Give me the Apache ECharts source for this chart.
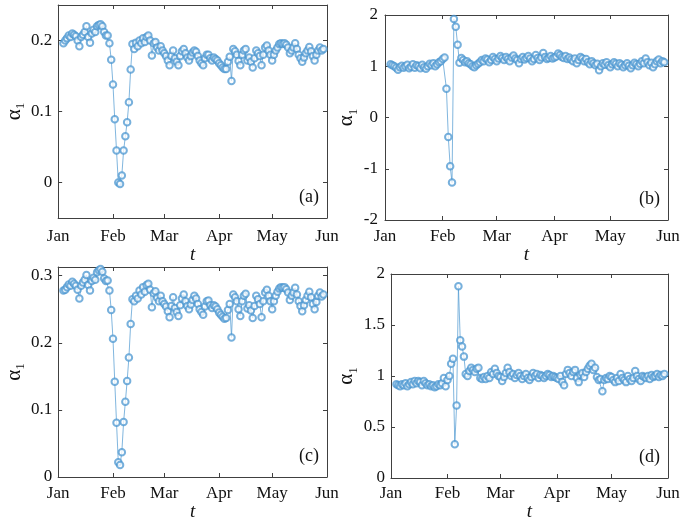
<!DOCTYPE html>
<html><head><meta charset="utf-8">
<script src="https://cdn.jsdelivr.net/npm/echarts@6/dist/echarts.min.js"></script>
<style>html,body{margin:0;padding:0;background:#fff}#c{width:685px;height:524px}</style>
</head><body><div id="c"></div>
<script>
// Month tick labels and their day index (day 0 = Jan 1, 2020)
const monthLabels = ['Jan','Feb','Mar','Apr','May','Jun'];
const monthStartDay = [0,31,60,91,121,152];
const lastDay = 152;
const firstDataDay = 3;   // first observation: Jan 4

// Panel (a)
const alphaA = [
0.196,0.200,0.203,0.207,0.205,0.210,0.208,0.206,0.200,0.192,
0.205,0.208,0.212,0.220,0.205,0.197,0.210,0.215,0.212,0.220,
0.222,0.223,0.220,0.212,0.207,0.207,0.196,0.173,0.138,0.089,
0.045,0.000,-0.002,0.010,0.045,0.065,0.085,0.113,0.159,0.195,
0.188,0.197,0.192,0.200,0.196,0.203,0.198,0.205,0.207,0.200,
0.179,0.196,0.198,0.190,0.186,0.192,0.186,0.182,0.178,0.172,
0.165,0.178,0.186,0.175,0.170,0.165,0.178,0.185,0.188,0.182,
0.176,0.172,0.178,0.183,0.186,0.184,0.178,0.172,0.168,0.165,
0.175,0.180,0.180,0.175,0.172,0.176,0.174,0.172,0.168,0.165,
0.162,0.160,0.160,0.170,0.177,0.143,0.188,0.185,0.180,0.171,
0.165,0.180,0.186,0.188,0.172,0.176,0.170,0.162,0.175,0.186,
0.182,0.178,0.165,0.180,0.190,0.193,0.186,0.180,0.172,0.180,
0.186,0.190,0.195,0.196,0.195,0.196,0.194,0.190,0.182,0.186,
0.190,0.196,0.188,0.180,0.175,0.170,0.176,0.182,0.186,0.191,
0.185,0.178,0.172,0.180,0.186,0.190,0.186,0.188];

// Panel (b)
const alphaB = [
1.04,1.02,1.00,0.97,0.93,0.98,1.01,0.97,1.00,1.03,
0.96,0.99,1.04,0.97,1.02,1.00,0.96,1.03,0.98,0.95,
1.00,1.05,1.02,1.06,1.00,1.04,1.08,1.10,1.14,1.17,
0.56,-0.38,-0.95,-1.27,1.92,1.77,1.42,1.07,1.16,1.12,
1.08,1.10,1.06,1.04,1.00,0.98,1.02,1.05,1.08,1.12,
1.10,1.15,1.13,1.08,1.12,1.18,1.14,1.10,1.15,1.20,
1.16,1.12,1.18,1.14,1.10,1.17,1.21,1.15,1.12,1.06,
1.14,1.18,1.13,1.16,1.20,1.15,1.10,1.14,1.22,1.16,
1.12,1.17,1.26,1.18,1.14,1.16,1.20,1.15,1.17,1.19,
1.25,1.22,1.18,1.16,1.20,1.14,1.17,1.13,1.10,1.15,
1.06,1.12,1.18,1.15,1.10,1.14,1.08,1.04,1.10,1.06,
1.02,1.05,0.92,1.00,1.06,1.03,1.08,1.02,0.98,1.04,
1.08,1.05,1.00,1.06,1.03,0.98,1.02,1.06,1.01,0.96,
1.02,1.07,1.04,1.00,1.05,1.10,1.06,1.15,1.08,1.02,
1.07,0.98,1.04,1.10,1.13,1.06,1.10,1.08];

// Panel (c)
const alphaC = [
0.278,0.279,0.283,0.287,0.285,0.291,0.288,0.285,0.279,0.266,
0.285,0.290,0.294,0.301,0.286,0.278,0.292,0.297,0.294,0.305,
0.308,0.310,0.306,0.296,0.292,0.293,0.278,0.249,0.206,0.142,
0.081,0.022,0.018,0.037,0.082,0.112,0.143,0.178,0.228,0.265,
0.262,0.270,0.266,0.278,0.272,0.283,0.276,0.286,0.288,0.279,
0.253,0.274,0.277,0.267,0.262,0.270,0.262,0.258,0.254,0.247,
0.238,0.255,0.268,0.252,0.246,0.240,0.256,0.266,0.272,0.262,
0.255,0.250,0.257,0.264,0.270,0.266,0.258,0.250,0.246,0.242,
0.254,0.262,0.263,0.256,0.252,0.256,0.254,0.250,0.245,0.242,
0.239,0.236,0.237,0.249,0.258,0.208,0.272,0.268,0.262,0.250,
0.240,0.262,0.270,0.273,0.251,0.256,0.248,0.237,0.255,0.270,
0.265,0.258,0.238,0.262,0.275,0.279,0.270,0.262,0.250,0.262,
0.270,0.276,0.281,0.283,0.282,0.283,0.280,0.275,0.264,0.270,
0.275,0.282,0.272,0.262,0.255,0.247,0.256,0.264,0.270,0.276,
0.268,0.258,0.250,0.261,0.270,0.275,0.269,0.272];

// Panel (d)
const alphaD = [
0.92,0.91,0.90,0.92,0.91,0.93,0.90,0.92,0.94,0.92,
0.95,0.93,0.95,0.94,0.91,0.95,0.93,0.91,0.92,0.90,
0.91,0.89,0.90,0.92,0.91,0.93,0.98,0.90,0.96,1.00,
1.12,1.17,0.33,0.71,1.88,1.35,1.29,1.19,1.02,1.00,
1.05,1.08,1.06,1.04,1.07,1.08,0.98,0.97,0.99,0.97,
1.00,0.98,1.04,1.02,1.07,1.03,1.00,0.99,0.95,0.99,
1.03,1.08,1.04,1.00,1.02,0.98,1.01,1.03,1.00,0.97,
1.00,1.02,0.98,0.96,0.99,1.03,1.00,1.02,0.98,1.01,
1.00,0.98,1.00,1.02,1.01,0.99,1.00,0.99,0.98,0.97,
1.00,0.94,0.91,1.02,1.06,1.03,1.00,1.04,1.06,0.98,
0.94,1.01,1.03,0.99,1.04,1.07,1.10,1.12,1.06,1.08,
0.99,0.96,0.97,0.85,0.96,0.98,0.97,1.00,0.99,0.96,
0.94,0.98,0.95,1.02,0.98,0.96,0.94,1.00,0.97,0.95,
0.98,1.05,1.00,0.97,0.95,1.00,0.99,0.98,1.00,0.97,
1.01,0.99,1.00,1.02,0.99,1.01,1.00,1.02];

const panelTags = ['(a)','(b)','(c)','(d)'];

const days = [];
for (let d = 0; d <= lastDay; d++) days.push(String(d));

const FONT = 'Liberation Serif';
const AXC = '#404040';
const LINEC = '#4a96d0';

const grids = [
  {left: 52, top: 5, width: 275, height: 213},
  {left: 385, top: 15, width: 283, height: 205},
  {left: 52, top: 267, width: 275, height: 210},
  {left: 391, top: 274, width: 277, height: 204}
];
const yCfgs = [
  {min: -0.05, max: 0.25, custom: [0, 0.1, 0.2], nameGap: 27, labelMargin: 6},
  {min: -2, max: 2, interval: 1, nameGap: 20, labelMargin: 7},
  {min: 0, max: 0.313, custom: [0, 0.1, 0.2, 0.3], nameGap: 27, labelMargin: 6},
  {min: 0, max: 2, interval: 0.5, nameGap: 17, labelMargin: 6}
];
const xCfgs = [
  {labelMargin: 10, nameGap: 22},
  {labelMargin: 8, nameGap: 21},
  {labelMargin: 8, nameGap: 19},
  {labelMargin: 7, nameGap: 18}
];
const seriesVals = [alphaA, alphaB, alphaC, alphaD];

const isMonthStart = (idx) => monthStartDay.indexOf(Number(idx)) >= 0;

const xAxis = [], yAxis = [], series = [], graphic = [];
grids.forEach((g, i) => {
  xAxis.push({
    type: 'category', gridIndex: i, data: days, boundaryGap: false, position: 'bottom',
    axisLine: {show: true, onZero: false, lineStyle: {color: AXC, width: 1}},
    axisTick: {show: true, inside: true, length: 4, interval: (idx) => isMonthStart(idx), lineStyle: {color: AXC}},
    axisLabel: {interval: (idx) => isMonthStart(idx), margin: xCfgs[i].labelMargin, color: '#111',
      fontFamily: FONT, fontSize: 17,
      formatter: (v) => monthLabels[monthStartDay.indexOf(Number(v))]},
    splitLine: {show: false},
    name: 't', nameLocation: 'middle', nameGap: xCfgs[i].nameGap,
    nameTextStyle: {fontFamily: FONT, fontStyle: 'italic', fontSize: 19, color: '#111'}
  });
  xAxis.push({
    type: 'category', gridIndex: i, data: days, boundaryGap: false, position: 'top',
    axisLine: {show: true, onZero: false, lineStyle: {color: AXC, width: 1}},
    axisTick: {show: true, inside: true, length: 4, interval: (idx) => isMonthStart(idx), lineStyle: {color: AXC}},
    axisLabel: {show: false}, splitLine: {show: false}
  });
  const yc = yCfgs[i];
  const yBase = {
    type: 'value', gridIndex: i, min: yc.min, max: yc.max,
    splitLine: {show: false},
    axisLine: {show: true, onZero: false, lineStyle: {color: AXC, width: 1}}
  };
  if (yc.interval) yBase.interval = yc.interval;
  const tick = {show: true, inside: true, length: 4, lineStyle: {color: AXC}};
  if (yc.custom) tick.customValues = yc.custom;
  const lab = {margin: yc.labelMargin, color: '#111', fontFamily: FONT, fontSize: 17,
    formatter: (v) => String(Math.round(v * 1000) / 1000)};
  if (yc.custom) lab.customValues = yc.custom;
  yAxis.push(Object.assign({}, yBase, {
    position: 'left', axisTick: tick, axisLabel: lab,
    name: '{a|α}{s|1}', nameLocation: 'middle', nameRotate: 90, nameGap: yc.nameGap,
    nameTextStyle: {fontFamily: FONT, color: '#111', lineHeight: 26,
      rich: {a: {fontFamily: FONT, fontSize: 21, color: '#111', lineHeight: 26, verticalAlign: 'middle'},
             s: {fontFamily: FONT, fontSize: 13, color: '#111', lineHeight: 26, verticalAlign: 'bottom'}}}
  }));
  yAxis.push(Object.assign({}, yBase, {
    position: 'right', axisTick: Object.assign({}, tick), axisLabel: {show: false}
  }));
  series.push({
    type: 'line', xAxisIndex: 2 * i, yAxisIndex: 2 * i,
    data: seriesVals[i].map((v, k) => [firstDataDay + k, v]),
    symbol: 'emptyCircle', symbolSize: 6.5, showAllSymbol: true,
    lineStyle: {color: LINEC, width: 0.7},
    itemStyle: {color: LINEC, borderColor: LINEC, borderWidth: 0.6, opacity: 0.75},
    emphasis: {disabled: true}
  });
  graphic.push({
    type: 'text', right: 685 - (g.left + g.width) + 8, top: g.top + g.height - 30,
    style: {text: panelTags[i], fontFamily: FONT, fontSize: 18, fill: '#111'}
  });
});

const chart = echarts.init(document.getElementById('c'));
chart.setOption({
  animation: false,
  backgroundColor: '#fff',
  grid: grids,
  xAxis: xAxis,
  yAxis: yAxis,
  series: series,
  graphic: graphic
});
</script>
</body></html>
